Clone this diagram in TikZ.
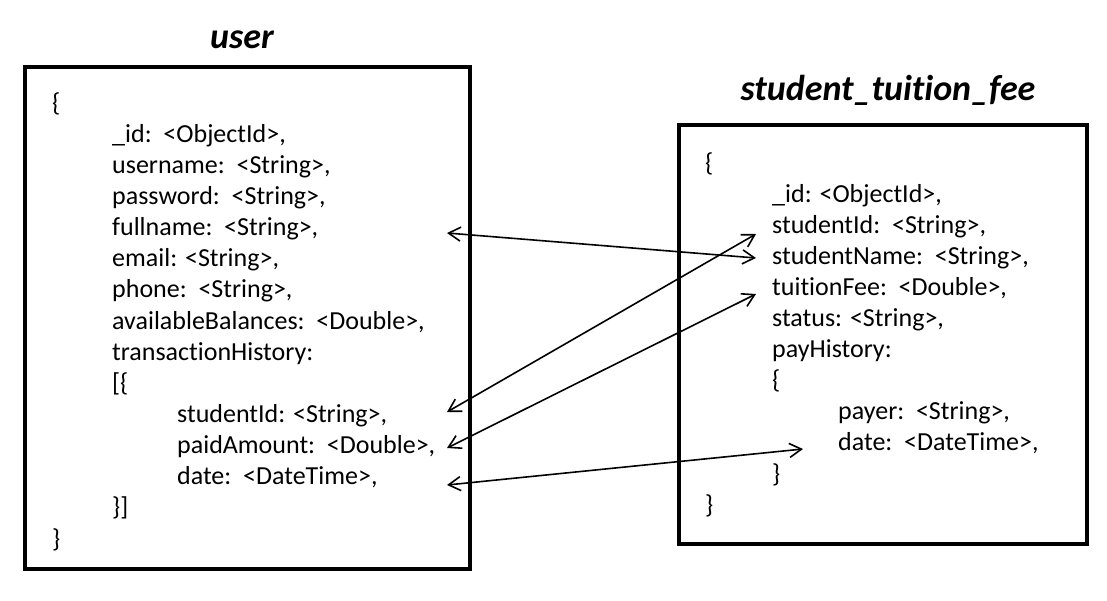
\documentclass[tikz,border=0pt]{standalone}
\usepackage{fontspec}
\setmainfont{Carlito}[Ligatures={NoCommon}]
\usetikzlibrary{arrows.meta}
\begin{document}
\begin{tikzpicture}[x=1pt,y=-1pt,
  body/.style={font=\fontsize{26}{30}\selectfont, anchor=base west, inner sep=0pt},
  ttl/.style={font=\fontsize{36}{40}\selectfont\bfseries\itshape, anchor=base, inner sep=0pt},
  docbox/.style={draw, line width=4pt, inner sep=0pt},
  link/.style={line width=1.6pt, {Straight Barb[length=12pt,width=14pt,line width=1.6pt]}-{Straight Barb[length=12pt,width=14pt,line width=1.6pt]}}]
\useasboundingbox (0,0) rectangle (1107,600);
\fill[white] (0,0) rectangle (1107,600);
% boxes
\node[docbox, minimum width=444.5pt, minimum height=502.5pt] (userbox) at (247.25,317.75) {};
\node[docbox, minimum width=408pt, minimum height=419pt] (feebox) at (883,334.5) {};
% titles
\node[ttl] (usertitle) at (242,48) {user};
\node[ttl] (feetitle) at (888,100) {student\_tuition\_fee};
% user lines
\foreach \x/\t [count=\k from 0] in {
  52/{\{},
  112/{\_id:\ \ <ObjectId>,},
  112/{username:\ \ <String>,},
  112/{password:\ \ <String>,},
  112/{fullname:\ \ <String>,},
  112/{email: <String>,},
  112/{phone:\ \ <String>,},
  112/{availableBalances:\ \ <Double>,},
  112/{transactionHistory:},
  112/{[\{},
  177/{studentId: <String>,},
  177/{paidAmount:\ \ <Double>,},
  177/{date:\ \ <DateTime>,},
  112/{\}]},
  52/{\}}}
  \node[body] (u\k) at (\x,{111+31.15*\k}) {\t};
% fee lines
\foreach \x/\t [count=\k from 0] in {
  705/{\{},
  772/{\_id: <ObjectId>,},
  772/{studentId:\ \ <String>,},
  772/{studentName:\ \ <String>,},
  772/{tuitionFee:\ \ <Double>,},
  772/{status: <String>,},
  772/{payHistory:},
  772/{\{},
  838/{payer:\ \ <String>,},
  838/{date:\ \ <DateTime>,},
  772/{\}},
  705/{\}}}
  \node[body] (f\k) at (\x,{171+31.1*\k}) {\t};
% arrow ends
\coordinate (a1L) at (447,233);
\coordinate (a1R) at (756,258);
\coordinate (a2L) at (447,412);
\coordinate (a2R) at (756,234);
\coordinate (a3L) at (447,448);
\coordinate (a3R) at (756,294);
\coordinate (a4L) at (447,485);
\coordinate (a4R) at (803,449);
\draw[link] (a1L) -- (a1R);
\draw[link] (a2L) -- (a2R);
\draw[link] (a3L) -- (a3R);
\draw[link] (a4L) -- (a4R);
\end{tikzpicture}
\end{document}
